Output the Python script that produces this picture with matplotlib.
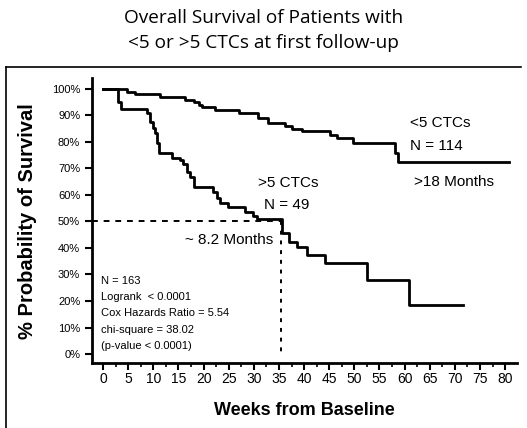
import matplotlib
matplotlib.use("Agg")
import matplotlib.pyplot as plt
from matplotlib.lines import Line2D

# step curves (weeks, % surviving)
weeks_low = [0, 4.7, 6.4, 11.3, 16.3, 18, 19, 19.7, 22.3, 27, 30.9, 32.9,
             36.2, 37.5, 39.5, 45.2, 46.5, 49.8, 58.1, 58.7, 80.8]
surv_low = [100, 99, 98, 97, 96, 95, 94, 93, 92, 91, 89, 87.3,
            86, 85, 84, 82.6, 81.4, 79.5, 76, 72.5, 72.5]

weeks_high = [0, 3.05, 3.5, 8.7, 9.35, 10.0, 10.35, 10.7, 11.2, 13.7, 15.3,
              15.9, 16.7, 17.3, 18, 21.95, 22.6, 23.3, 24.9, 28.3, 29.9,
              30.6, 35.56, 36.9, 38.5, 40.5, 44.2, 52.5, 60.8, 71.7]
surv_high = [100, 95, 92.3, 90.8, 87.7, 85.1, 83.3, 79.5, 75.7, 73.8, 73.2,
             71.7, 68.8, 66.9, 63.1, 61.2, 58.7, 57, 55.6, 53.7, 51.9,
             51, 45.5, 42.4, 40.5, 37.4, 34.2, 27.8, 18.5, 18.5]

median_week = 35.5
x_ticks = list(range(0, 85, 5))
y_ticks = list(range(0, 110, 10))

stats_lines = ["N = 163", "Logrank  < 0.0001", "Cox Hazards Ratio = 5.54",
               "chi-square = 38.02", "(p-value < 0.0001)"]

fig = plt.figure(figsize=(5.27, 4.28), dpi=100)
ax = fig.add_axes([0.1746, 0.1512, 0.8058, 0.6658])

ax.step(weeks_low, surv_low, where="post", color="black", lw=2.0)
ax.step(weeks_high, surv_high, where="post", color="black", lw=2.0)

# median marker
ax.plot([-2.2, median_week], [50, 50], color="black", lw=1.4, ls=(0, (3, 3)))
ax.plot([median_week, median_week], [50, 0], color="black", lw=1.4, ls=(0, (2, 3)))

ax.set_xlim(-2.2, 82.3)
ax.set_ylim(-3.5, 104)
ax.spines["top"].set_visible(False)
ax.spines["right"].set_visible(False)
ax.spines["left"].set_linewidth(2)
ax.spines["bottom"].set_linewidth(2)

ax.set_xticks(x_ticks)
ax.set_xticks([x + 2.5 for x in x_ticks[:-1]], minor=True)
ax.set_xticklabels([str(x) for x in x_ticks], family="Liberation Sans", fontsize=10)
ax.set_yticks(y_ticks)
ax.set_yticklabels([f"{y}%" for y in y_ticks], family="Liberation Sans", fontsize=8)
ax.tick_params(axis="both", which="major", length=5, width=1.5, direction="out")
ax.tick_params(axis="x", which="minor", length=3, width=1.2, direction="out")
ax.tick_params(axis="x", pad=1.5)

ax.set_xlabel("Weeks from Baseline", family="Liberation Sans", fontweight="bold",
              fontsize=13)
ax.xaxis.set_label_coords(0.5, -0.135)
ax.set_ylabel("% Probability of Survival", family="Liberation Sans", fontweight="bold",
              fontsize=14.5)
ax.yaxis.set_label_coords(-0.13, 0.5)

lab = dict(family="Liberation Sans", fontsize=11, va="center")
ax.text(61.1, 87.3, "<5 CTCs", **lab)
ax.text(61.1, 78.6, "N = 114", **lab)
ax.text(61.9, 65.0, ">18 Months", **lab)
ax.text(30.8, 64.6, ">5 CTCs", **lab)
ax.text(32.0, 56.3, "N = 49", **lab)
ax.text(16.3, 43.1, "~ 8.2 Months", **lab)

for i, line in enumerate(stats_lines):
    ax.text(-0.5, 27.5 - i * 6.1, line, family="Liberation Sans", fontsize=8,
            va="center")

fig.text(0.5, 0.957, "Overall Survival of Patients with", family="Open Sans",
         fontsize=13.7, ha="center", va="center")
fig.text(0.5, 0.899, "<5 or >5 CTCs at first follow-up", family="Open Sans",
         fontsize=13.7, ha="center", va="center")

# frame around the plot area
fig.add_artist(Line2D([0.011, 0.989], [0.843, 0.843], color="black", lw=1.2))
fig.add_artist(Line2D([0.011, 0.011], [0.843, 0.0], color="black", lw=1.2))

fig.savefig("out.png", dpi=100)
